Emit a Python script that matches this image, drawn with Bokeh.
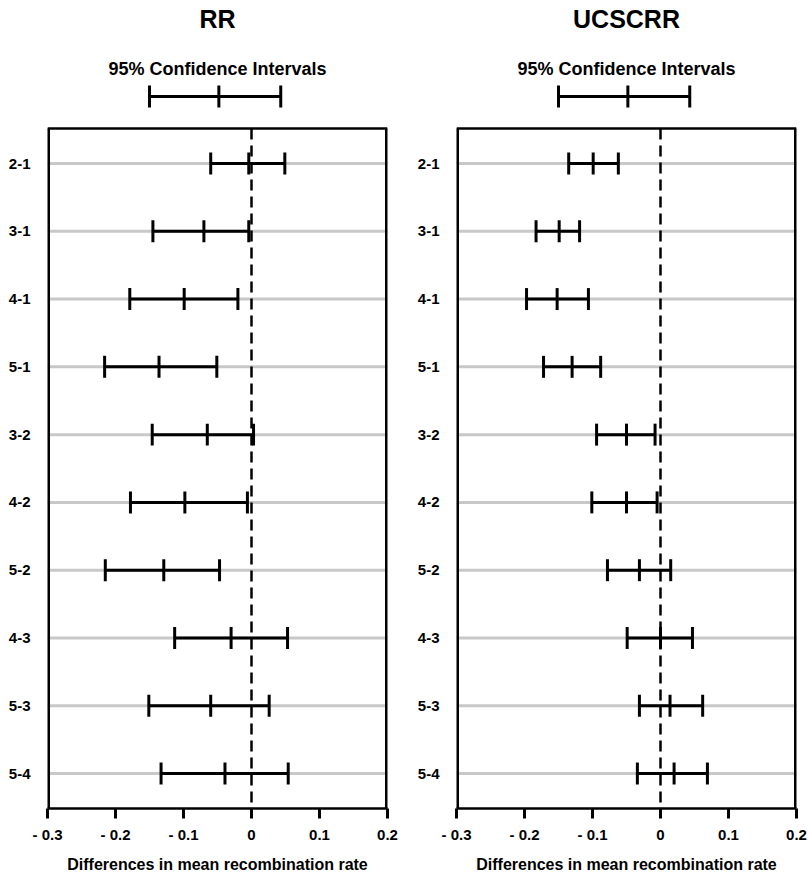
import numpy as np
from bokeh.plotting import figure
from bokeh.layouts import row
from bokeh.models import Range1d, FixedTicker, ColumnDataSource
from bokeh.core.properties import value
from bokeh.embed import file_html
from bokeh.resources import INLINE

# ---------------- data ----------------
comparisons = ["2-1", "3-1", "4-1", "5-1", "3-2", "4-2", "5-2", "4-3", "5-3", "5-4"]

rr_lower = [-0.060, -0.145, -0.179, -0.216, -0.146, -0.178, -0.215, -0.113, -0.151, -0.133]
rr_mean = [-0.004, -0.070, -0.099, -0.136, -0.065, -0.098, -0.129, -0.030, -0.060, -0.039]
rr_upper = [0.049, -0.004, -0.020, -0.051, 0.003, -0.006, -0.047, 0.053, 0.026, 0.054]

ucsc_lower = [-0.135, -0.183, -0.197, -0.172, -0.094, -0.101, -0.078, -0.049, -0.031, -0.034]
ucsc_mean = [-0.099, -0.149, -0.152, -0.130, -0.050, -0.050, -0.031, 0.000, 0.014, 0.020]
ucsc_upper = [-0.062, -0.119, -0.106, -0.088, -0.008, -0.005, 0.015, 0.047, 0.062, 0.069]

x_ticks = [-0.3, -0.2, -0.1, 0.0, 0.1, 0.2]
x_tick_labels = ["- 0.3", "- 0.2", "- 0.1", "0", "0.1", "0.2"]

key_values = [-0.150, -0.048, 0.043]  # lower, estimate, upper of the legend key
key_title = "95% Confidence Intervals"
x_label = "Differences in mean recombination rate"

FONT = "Liberation Sans"

# ---------------- layout constants ----------------
X_MIN, X_MAX = -0.3, 0.2
PAD = 0.516            # space between box edge and first/last row (row units)
Y_TOP = -1.405         # top of plotting frame (row units, inverted axis)
CAP = 0.162            # half height of whisker caps (row units)
TITLE_Y = -1.139
SUB_Y = -0.394
KEY_Y = 0.012


def make_panel(title, lower, mean, upper, width, border_left, border_right):
    n = len(comparisons)
    rows = list(range(1, n + 1))
    box_top = 1 - PAD
    box_bottom = n + PAD

    p = figure(width=width, height=875, output_backend="svg", toolbar_location=None,
               x_range=Range1d(X_MIN, X_MAX), y_range=Range1d(box_bottom, Y_TOP),
               min_border_left=border_left, min_border_right=border_right,
               min_border_top=0, min_border_bottom=67)
    p.outline_line_color = None
    p.background_fill_color = "white"
    p.border_fill_color = "white"
    p.xgrid.grid_line_color = None
    p.ygrid.grid_line_color = None

    # light row lines
    p.segment(x0=[X_MIN] * n, x1=[X_MAX] * n, y0=rows, y1=rows,
              line_color="#c8c8c8", line_width=3)

    # dashed zero line
    p.segment(x0=[0], x1=[0], y0=[box_top], y1=[box_bottom],
              line_color="black", line_width=2.5, line_dash="11 6")

    # box
    p.segment(x0=[X_MIN, X_MAX], x1=[X_MIN, X_MAX], y0=[box_top] * 2, y1=[box_bottom] * 2,
              line_color="black", line_width=5)
    p.segment(x0=[X_MIN], x1=[X_MAX], y0=[box_top], y1=[box_top],
              line_color="black", line_width=2.5)

    # confidence intervals
    src = ColumnDataSource(dict(y=rows, lower=lower, mean=mean, upper=upper))
    p.segment(x0="lower", x1="upper", y0="y", y1="y", source=src,
              line_color="black", line_width=3)
    caps_x = list(lower) + list(mean) + list(upper)
    caps_y = rows * 3
    p.segment(x0=caps_x, x1=caps_x, y0=[r - CAP for r in caps_y], y1=[r + CAP for r in caps_y],
              line_color="black", line_width=3)

    # legend key
    p.segment(x0=[key_values[0]], x1=[key_values[2]], y0=[KEY_Y], y1=[KEY_Y],
              line_color="black", line_width=3)
    p.segment(x0=key_values, x1=key_values, y0=[KEY_Y - CAP] * 3, y1=[KEY_Y + CAP] * 3,
              line_color="black", line_width=3)

    # titles
    xc = (X_MIN + X_MAX) / 2
    p.text(x=[xc], y=[TITLE_Y], text=[title], text_font=value(FONT), text_font_style="bold",
           text_font_size="25px", text_align="center", text_baseline="middle", text_color="black")
    p.text(x=[xc], y=[SUB_Y], text=[key_title], text_font=value(FONT), text_font_style="bold",
           text_font_size="18px", text_align="center", text_baseline="middle", text_color="black")

    # x axis
    xa = p.xaxis[0]
    xa.ticker = FixedTicker(ticks=x_ticks)
    xa.major_label_overrides = {t: l for t, l in zip(x_ticks, x_tick_labels)}
    xa.axis_line_width = 2.5
    xa.axis_line_color = "black"
    xa.major_tick_line_width = 3
    xa.major_tick_line_color = "black"
    xa.major_tick_out = 10
    xa.major_tick_in = 0
    xa.minor_tick_line_color = None
    xa.major_label_text_font = FONT
    xa.major_label_text_font_style = "bold"
    xa.major_label_text_font_size = "15px"
    xa.major_label_text_color = "black"
    xa.major_label_standoff = 7
    xa.axis_label = x_label
    xa.axis_label_text_font = FONT
    xa.axis_label_text_font_style = "bold"
    xa.axis_label_text_font_size = "16px"
    xa.axis_label_text_color = "black"
    xa.axis_label_standoff = 10

    # y axis
    ya = p.yaxis[0]
    ya.ticker = FixedTicker(ticks=rows)
    ya.major_label_overrides = {r: c for r, c in zip(rows, comparisons)}
    ya.axis_line_color = None
    ya.major_tick_line_color = None
    ya.minor_tick_line_color = None
    ya.major_label_text_font = FONT
    ya.major_label_text_font_style = "bold"
    ya.major_label_text_font_size = "15px"
    ya.major_label_text_color = "black"
    ya.major_label_standoff = 11
    return p


p1 = make_panel("RR", rr_lower, rr_mean, rr_upper, 404, 47, 17)
p2 = make_panel("UCSCRR", ucsc_lower, ucsc_mean, ucsc_upper, 404, 52, 12)

layout = row(p1, p2)
open("out.html", "w").write(file_html(layout, INLINE))
